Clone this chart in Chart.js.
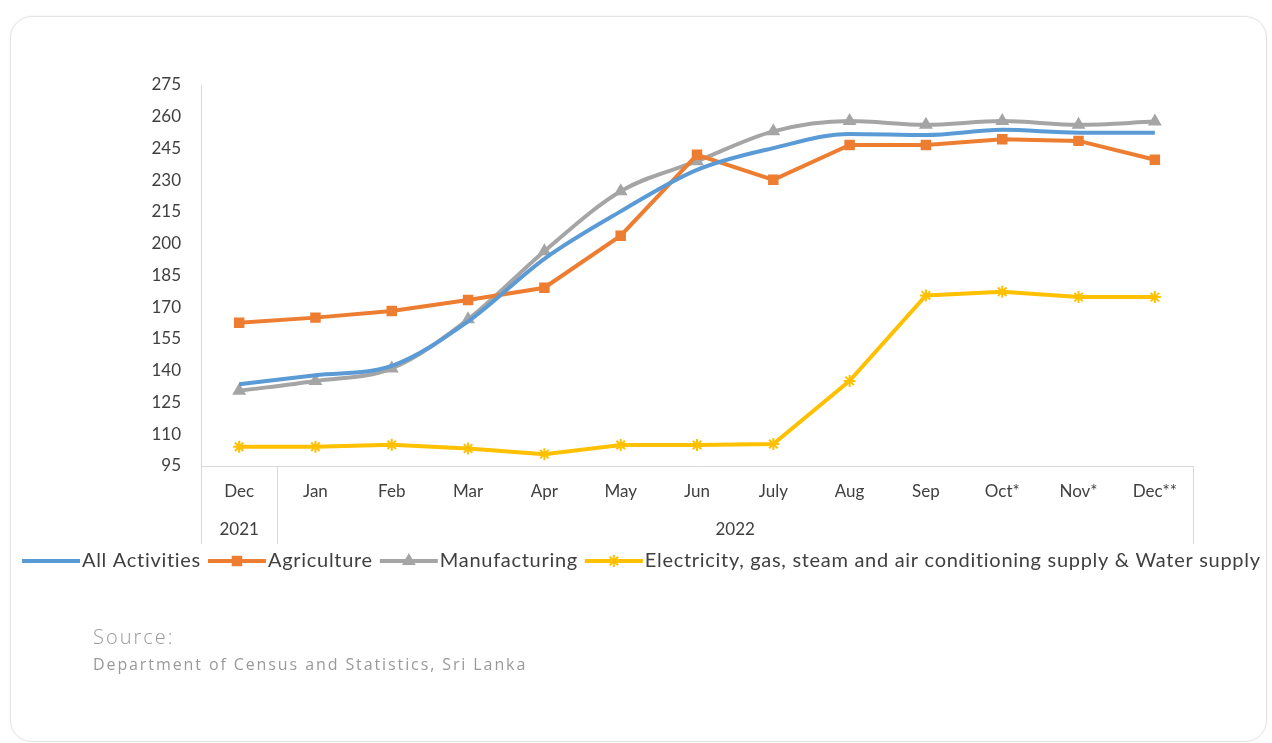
<!DOCTYPE html>
<html>
<head>
<meta charset="utf-8">
<script src="https://cdn.jsdelivr.net/npm/chart.js@4.4.1/dist/chart.umd.min.js"></script>
<style>
  html, body { margin: 0; padding: 0; background: #fff; }
  body { width: 1272px; height: 743px; position: relative; overflow: hidden; }
  .card {
    position: absolute; left: 10px; top: 16px; width: 1255px; height: 724px;
    border: 1px solid #e4e4e4; border-radius: 22px;
    box-shadow: 0 0 3px rgba(0,0,0,0.06);
  }
  #chartBox { position: absolute; left: 0; top: 0; width: 1272px; height: 743px; }
  .source { position: absolute; left: 93px; top: 624px; color: #9a9a9a; font-family: "Open Sans", sans-serif; }
  .source .t1 { font-size: 20px; letter-spacing: 2px; font-weight: 300; line-height: 26px; }
  .source .t2 { font-size: 16px; letter-spacing: 1.9px; line-height: 22px; margin-top: 3px; }
</style>
</head>
<body>
<div class="card"></div>
<div id="chartBox"><canvas id="grafico"></canvas></div>
<div class="source">
  <div class="t1">Source:</div>
  <div class="t2">Department of Census and Statistics, Sri Lanka</div>
</div>
<script>
const meses = ['Dec', 'Jan', 'Feb', 'Mar', 'Apr', 'May', 'Jun', 'July', 'Aug', 'Sep', 'Oct*', 'Nov*', 'Dec**']
const anios = [{ etiqueta: '2021', desde: 0, hasta: 0 }, { etiqueta: '2022', desde: 1, hasta: 12 }]

const todasActividades = [133.6, 137.9, 142.3, 163.3, 192.9, 215.3, 234.9, 245.2, 251.9, 251.4, 253.8, 252.5, 252.5]
const agricultura = [162.7, 165.1, 168.2, 173.4, 179.2, 203.8, 242.0, 230.2, 246.7, 246.7, 249.4, 248.6, 239.7]
const manufactura = [130.5, 135.2, 141.1, 164.3, 196.5, 224.8, 239.0, 253.1, 258.0, 256.2, 258.0, 256.2, 257.7]
const electricidad = [104.1, 104.1, 105.0, 103.3, 100.6, 104.9, 104.9, 105.4, 135.2, 175.6, 177.3, 174.8, 174.8]

const fuente = 'Lato, "Noto Sans", sans-serif'
const colorTexto = '#404040'

const crearSerie = (nombre, valores, color, estilo, radio, curva) => {
    return {
        label: nombre,
        data: valores,
        borderColor: color,
        backgroundColor: color,
        borderWidth: 4,
        pointStyle: estilo,
        pointRadius: radio,
        pointBorderWidth: 2,
        pointHoverRadius: radio,
        tension: curva,
        cubicInterpolationMode: curva ? 'monotone' : 'default'
    }
}

const series = [
    crearSerie('All Activities', todasActividades, '#5B9BD5', 'circle', 0, 0.4),
    crearSerie('Agriculture', agricultura, '#ED7D31', 'rect', 6, 0),
    crearSerie('Manufacturing', manufactura, '#A5A5A5', 'triangle', 6, 0.4),
    crearSerie('Electricity, gas, steam and air conditioning supply & Water supply', electricidad, '#FFC000', 'star', 6, 0)
]

// separadores y años del eje x, más la leyenda de Excel
const ejeMultinivel = {
    id: 'ejeMultinivel',
    afterDraw(chart) {
        const ctx = chart.ctx
        const x = chart.scales.x
        const area = chart.chartArea
        const paso = x.getPixelForValue(1) - x.getPixelForValue(0)
        const abajo = area.bottom + 78
        ctx.save()
        ctx.strokeStyle = '#d9d9d9'
        ctx.lineWidth = 1
        const limites = [0]
        anios.forEach(a => limites.push(a.hasta + 1))
        limites.forEach(i => {
            const px = Math.round(x.getPixelForValue(i) - paso / 2) + 0.5
            ctx.beginPath()
            ctx.moveTo(px, area.bottom)
            ctx.lineTo(px, abajo)
            ctx.stroke()
        })
        ctx.fillStyle = colorTexto
        ctx.font = '17px ' + fuente
        ctx.textAlign = 'center'
        ctx.textBaseline = 'middle'
        anios.forEach(a => {
            const centro = (x.getPixelForValue(a.desde) + x.getPixelForValue(a.hasta)) / 2
            ctx.fillText(a.etiqueta, centro, area.bottom + 64)
        })

        // leyenda
        ctx.font = '20px ' + fuente
        ctx.letterSpacing = '0.7px'
        ctx.textAlign = 'left'
        let lx = 22
        const ly = 561
        chart.data.datasets.forEach(ds => {
            ctx.strokeStyle = ds.borderColor
            ctx.lineWidth = 4
            ctx.beginPath()
            ctx.moveTo(lx, ly)
            ctx.lineTo(lx + 58, ly)
            ctx.stroke()
            if (ds.pointRadius > 0) {
                ctx.fillStyle = ds.backgroundColor
                ctx.lineWidth = 2
                Chart.helpers.drawPoint(ctx, { pointStyle: ds.pointStyle, radius: ds.pointRadius, borderWidth: 2 }, lx + 29, ly)
            }
            ctx.fillStyle = colorTexto
            ctx.fillText(ds.label, lx + 60, ly)
            lx += 60 + ctx.measureText(ds.label).width + 7
        })
        ctx.restore()
    }
}

const generarGrafico = () => {
    const lienzo = document.querySelector('#grafico')
    new Chart(lienzo, {
        type: 'line',
        data: { labels: meses, datasets: series },
        options: {
            responsive: true,
            maintainAspectRatio: false,
            animation: false,
            layout: { padding: { left: 120, right: 79, top: 85, bottom: 197 } },
            plugins: { legend: { display: false }, tooltip: { enabled: false } },
            scales: {
                x: {
                    offset: true,
                    grid: { display: false, drawTicks: false },
                    border: { display: true, color: '#d9d9d9', width: 1 },
                    ticks: { color: colorTexto, font: { family: fuente, size: 17 }, padding: 15, maxRotation: 0, autoSkip: false },
                    afterFit: (escala) => { escala.height = 80 }
                },
                y: {
                    min: 95,
                    max: 275,
                    grid: { display: false, drawTicks: false },
                    border: { display: true, color: '#d9d9d9', width: 1 },
                    ticks: { stepSize: 15, color: colorTexto, font: { family: fuente, size: 17 }, padding: 20 },
                    afterFit: (escala) => { escala.width = 81 }
                }
            }
        },
        plugins: [ejeMultinivel]
    })
}

generarGrafico()
</script>
</body>
</html>
